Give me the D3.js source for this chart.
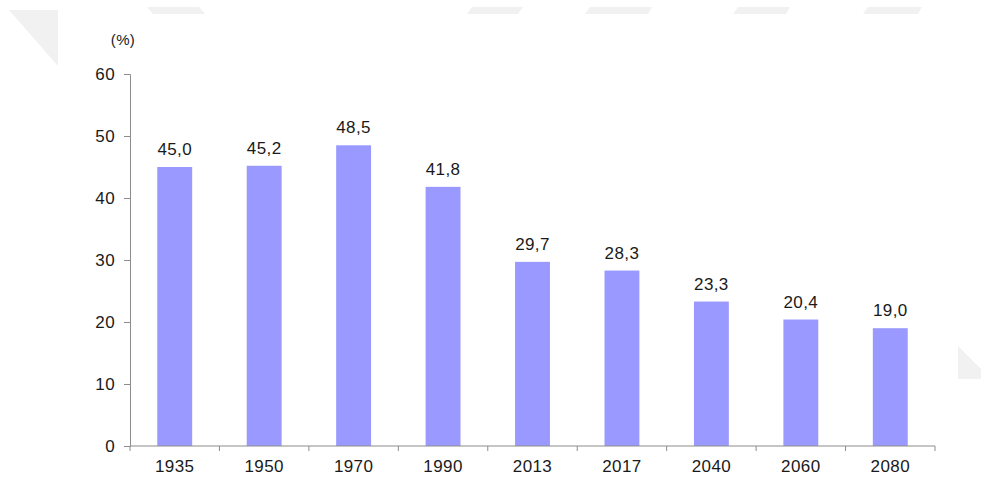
<!DOCTYPE html>
<html><head><meta charset="utf-8">
<script src="https://cdn.jsdelivr.net/npm/d3@7"></script>
<style>
html,body{margin:0;padding:0;background:#fff;}
svg text{font-family:"Liberation Sans",Arial,sans-serif;fill:#1a1a1a;letter-spacing:0.4px;}
</style></head>
<body>
<svg id="chart" width="981" height="479"></svg>
<script>
const years = ["1935","1950","1970","1990","2013","2017","2040","2060","2080"];
const values = [45.0, 45.2, 48.5, 41.8, 29.7, 28.3, 23.3, 20.4, 19.0];
const yTicks = [0, 10, 20, 30, 40, 50, 60];
const unitLabel = "(%)";

const svg = d3.select("#chart");

// faint watermark shapes
const wm = svg.append("g").attr("fill", "#f1f1f1");
[
  [[9,10],[58,10],[58,66]],
  [[147,7],[199,7],[205,14],[153,14]],
  [[472,7],[523,7],[518,14],[467,14]],
  [[590,7],[652,7],[648,14],[585,14]],
  [[738,7],[790,7],[786,14],[733,14]],
  [[868,7],[922,7],[918,14],[863,14]],
  [[958,346],[981,369],[981,379],[958,379]]
].forEach(p => wm.append("polygon").attr("points", p.map(d => d.join(",")).join(" ")));

const x0 = 130, x1 = 935, yTop = 74, yBot = 446;
const x = d3.scaleBand().domain(years).range([x0, x1]).paddingInner(0.61).paddingOuter(0.305);
const y = d3.scaleLinear().domain([0, 60]).range([yBot, yTop]);

// bars
svg.append("g").selectAll("rect").data(values).join("rect")
  .attr("x", (d, i) => x(years[i]))
  .attr("y", d => y(d))
  .attr("width", x.bandwidth())
  .attr("height", d => y(0) - y(d))
  .attr("fill", "#9999ff");

// value labels
svg.append("g").selectAll("text").data(values).join("text")
  .attr("x", (d, i) => x(years[i]) + x.bandwidth() / 2)
  .attr("y", d => y(d) - 12)
  .attr("text-anchor", "middle")
  .attr("font-size", 17)
  .text(d => d.toFixed(1).replace(".", ","));

// y axis
const yAxis = svg.append("g").attr("transform", `translate(${x0},0)`)
  .call(d3.axisLeft(y).tickValues(yTicks).tickSize(6).tickPadding(9).tickFormat(d3.format("d")));
yAxis.select(".domain").attr("stroke", "#8c8c8c");
yAxis.selectAll(".tick line").attr("stroke", "#8c8c8c");
yAxis.selectAll("text").attr("font-size", 17).attr("font-family", "Liberation Sans, Arial, sans-serif").attr("fill", "#1a1a1a");

// x axis
const xTickPos = d3.range(years.length + 1).map(i => x0 + i * ((x1 - x0) / years.length));
const xg = svg.append("g");
xg.append("line").attr("x1", x0).attr("x2", x1).attr("y1", yBot).attr("y2", yBot).attr("stroke", "#8c8c8c");
xg.selectAll("line.t").data(xTickPos).join("line").attr("class", "t")
  .attr("x1", d => d).attr("x2", d => d).attr("y1", yBot).attr("y2", yBot + 5)
  .attr("stroke", "#8c8c8c");
xg.selectAll("text").data(years).join("text")
  .attr("x", d => x(d) + x.bandwidth() / 2)
  .attr("y", 472)
  .attr("text-anchor", "middle")
  .attr("font-size", 17)
  .text(d => d);

// unit label
svg.append("text").attr("x", 123).attr("y", 45).attr("text-anchor", "middle")
  .attr("font-size", 15).text(unitLabel);
</script>
</body></html>
